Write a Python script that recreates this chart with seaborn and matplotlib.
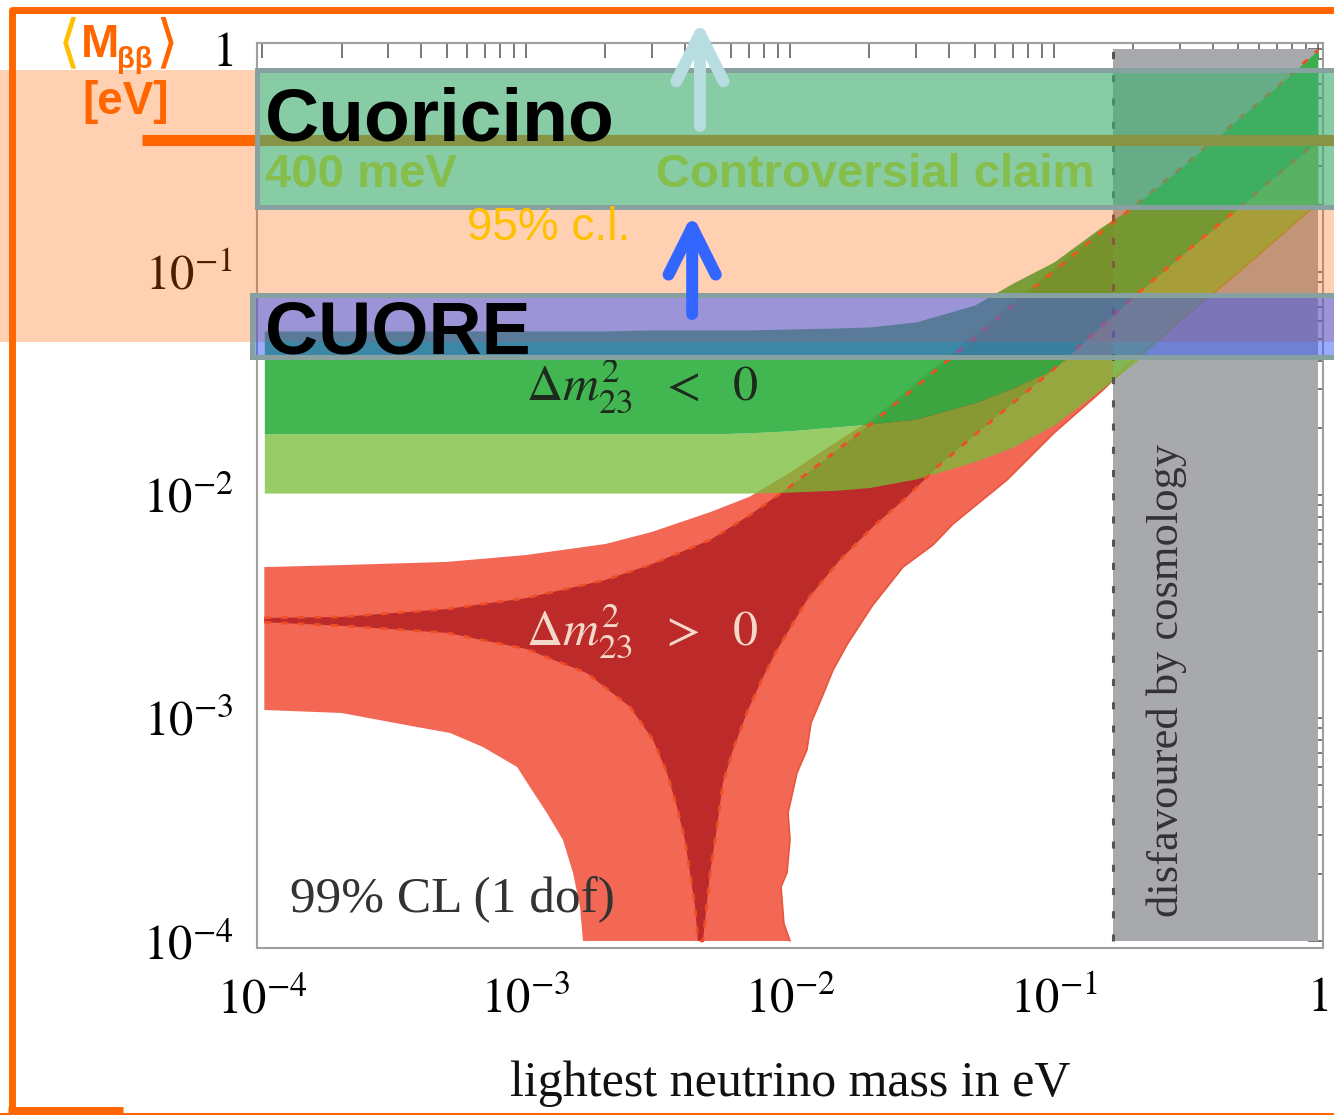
import numpy as np
import matplotlib
matplotlib.use("Agg")
import matplotlib.pyplot as plt
import matplotlib.transforms as mtransforms
from matplotlib.patches import Rectangle, FancyArrowPatch
from matplotlib.lines import Line2D
from matplotlib.ticker import LogLocator, NullFormatter
import seaborn as sns

# ---------------------------------------------------------------------------
# Effective Majorana mass <M_bb> (eV) versus lightest neutrino mass (eV)
# ---------------------------------------------------------------------------
m_grid = [1.02e-4, 2e-4, 5e-4, 1e-3, 2e-3, 3e-3, 5e-3, 7e-3, 1e-2, 1.5e-2, 2e-2,
          3e-2, 5e-2, 7e-2, 0.1, 0.15, 0.2, 0.3, 0.5, 0.7, 1.0]

# inverted hierarchy (dm23^2 < 0)
ih_upper = [0.0544, 0.0544, 0.0544, 0.0544, 0.0544, 0.0550, 0.0550, 0.0550, 0.0555,
            0.0561, 0.0567, 0.0597, 0.0711, 0.0893, 0.111, 0.158, 0.196, 0.29,
            0.485, 0.675, 0.99]
ih_mid = [0.0188, 0.0188, 0.0188, 0.0188, 0.0188, 0.0188, 0.0188, 0.0190, 0.0194,
          0.0202, 0.0208, 0.0219, 0.0259, 0.0302, 0.0367, 0.0567, 0.0772, 0.1168,
          0.1936, 0.2723, 0.3867]
ih_lower = [0.0102, 0.0102, 0.0102, 0.0102, 0.0102, 0.0102, 0.0102, 0.0102, 0.0103,
            0.0105, 0.0108, 0.0118, 0.0141, 0.0164, 0.0206, 0.0296, 0.0387, 0.0603,
            0.100, 0.141, 0.204]

# normal hierarchy (dm23^2 > 0): best-fit band
nh_dark_upper = [0.00281, 0.00284, 0.00308, 0.00345, 0.00416, 0.00490, 0.0063, 0.0081,
                 0.0109, 0.0158, 0.0206, 0.0305, 0.0506, 0.0711, 0.101, 0.150, 0.196,
                 0.29, 0.485, 0.675, 0.99]
nh_dark_left_x = [1.02e-4, 2e-4, 5e-4, 1e-3, 1.70e-3, 2.48e-3, 3.03e-3, 3.42e-3,
                  3.73e-3, 4.0e-3, 4.18e-3, 4.37e-3, 4.48e-3]
nh_dark_left_y = [2.69e-3, 2.59e-3, 2.41e-3, 2.04e-3, 1.59e-3, 1.12e-3, 7.97e-4,
                  5.67e-4, 3.99e-4, 2.84e-4, 2.02e-4, 1.42e-4, 1.0e-4]
nh_dark_right_x = [4.68e-3, 4.98e-3, 5.29e-3, 5.57e-3, 6.08e-3, 6.93e-3, 7.91e-3,
                   8.93e-3, 0.01159, 0.01545, 0.0206, 0.0277, 0.0361, 0.0511, 0.070,
                   0.1, 0.15, 0.2, 0.3, 0.5, 0.7, 1.0]
nh_dark_right_y = [1.0e-4, 2.02e-4, 3.24e-4, 5.11e-4, 7.19e-4, 1.086e-3, 1.527e-3,
                   2.018e-3, 3.38e-3, 5.11e-3, 7.19e-3, 9.79e-3, 0.01335, 0.01897,
                   0.02586, 0.0367, 0.0567, 0.0772, 0.1168, 0.1936, 0.2723, 0.3867]

# normal hierarchy: 99% CL band
nh_light_upper = [0.00475, 0.00485, 0.00501, 0.00538, 0.00603, 0.00683, 0.00839,
                  0.00980, 0.0126, 0.0173, 0.0215, 0.0318, 0.0527, 0.0734, 0.104,
                  0.154, 0.202, 0.302, 0.501, 0.697, 1.0]
nh_light_left_x = [1.02e-4, 2e-4, 3.86e-4, 5.15e-4, 6.87e-4, 9.25e-4, 1.035e-3,
                   1.2e-3, 1.38e-3, 1.507e-3, 1.602e-3, 1.644e-3]
nh_light_left_y = [1.086e-3, 1.053e-3, 9.11e-4, 8.57e-4, 7.41e-4, 6.03e-4, 4.9e-4,
                   3.75e-4, 2.84e-4, 2.02e-4, 1.42e-4, 1.0e-4]
nh_light_right_x = [0.0100, 9.48e-3, 9.25e-3, 9.74e-3, 0.0100, 9.83e-3, 0.01063,
                    0.01159, 0.01201, 0.01322, 0.01456, 0.01644, 0.01891, 0.0206,
                    0.02679, 0.03481, 0.04143, 0.06637, 0.1, 0.1533, 0.2, 0.3, 0.5, 1.0]
nh_light_right_y = [1.0e-4, 1.20e-4, 1.75e-4, 2.02e-4, 2.84e-4, 3.75e-4, 5.67e-4,
                    7.19e-4, 9.5e-4, 1.24e-3, 1.64e-3, 2.13e-3, 2.75e-3, 3.21e-3,
                    4.75e-3, 5.97e-3, 7.41e-3, 0.01168, 0.01897, 0.02957, 0.0403,
                    0.0603, 0.100, 0.204]

cosmology_limit = 0.167          # eV
ci_region = (0.0485, 0.805)      # 95% c.l. shading (eV)
cuoricino_range = (0.196, 0.805)
claim_value = 0.39
cuore_range = (0.0416, 0.0788)

x_ticks = [1e-4, 1e-3, 1e-2, 1e-1, 1.0]
x_tick_labels = [r"$10^{-4}$", r"$10^{-3}$", r"$10^{-2}$", r"$10^{-1}$", r"$1$"]
y_ticks = [1e-4, 1e-3, 1e-2, 1e-1, 1.0]
y_tick_labels = [r"$10^{-4}$", r"$10^{-3}$", r"$10^{-2}$", r"$10^{-1}$", r"$1$"]

# ---------------------------------------------------------------------------
W, H = 1334, 1115
sns.set_theme(style="white")
plt.rcParams["font.family"] = ["Liberation Serif", "DejaVu Serif"]
plt.rcParams["mathtext.fontset"] = "stix"

ORANGE = "#FF6600"
GOLD = "#FFC000"
LIGHT_RED = "#F26855"
DARK_RED = "#BC2A2A"
GRAY = "#A8A9AD"

fig = plt.figure(figsize=(W / 100, H / 100), dpi=100)
fig.patch.set_facecolor("white")
ax = fig.add_axes([257 / W, 1 - 948 / H, (1323 - 257) / W, (948 - 43) / H])
ax.set_xscale("log")
ax.set_yscale("log")
ax.set_facecolor("white")

# normal hierarchy regions
poly_x = m_grid + nh_light_right_x[::-1] + nh_light_left_x[::-1]
poly_y = nh_light_upper + nh_light_right_y[::-1] + nh_light_left_y[::-1]
ax.fill(poly_x, poly_y, color=LIGHT_RED, lw=0, zorder=1)
poly_x = m_grid + nh_dark_right_x[::-1] + nh_dark_left_x[::-1]
poly_y = nh_dark_upper + nh_dark_right_y[::-1] + nh_dark_left_y[::-1]
ax.fill(poly_x, poly_y, color=DARK_RED, lw=0, zorder=1.2)

# region excluded by cosmology
ax.fill_between([cosmology_limit, 1.0], 1e-4, 1.0, color=GRAY, lw=0, zorder=2)
sns.lineplot(x=nh_light_right_x, y=nh_light_right_y, sort=False, estimator=None,
             color="#E8553A", lw=1.2, ax=ax, zorder=2.5)

# inverted hierarchy regions
ax.fill_between(m_grid, ih_lower, ih_mid, color=(120 / 255, 188 / 255, 55 / 255),
                alpha=0.76, lw=0, zorder=3)
ax.fill_between(m_grid, ih_mid, ih_upper, color=(50 / 255, 176 / 255, 66 / 255),
                alpha=0.92, lw=0, zorder=3.1)

# dashed boundaries of the best-fit normal-hierarchy band
sns.lineplot(x=m_grid, y=nh_dark_upper, sort=False, estimator=None,
             color="#F04E26", lw=2.0, ls=(0, (2.5, 3.5)), ax=ax, zorder=4)
sns.lineplot(x=nh_dark_left_x + nh_dark_right_x, y=nh_dark_left_y + nh_dark_right_y,
             sort=False, estimator=None, color="#F04E26", lw=2.0, ls=(0, (2.5, 3.5)),
             ax=ax, zorder=4)
ax.plot([cosmology_limit, cosmology_limit], [1e-4, 1.0], color="#555555", lw=2.2,
        ls=(0, (2.3, 5.3)), zorder=4.2)

# labels inside the plot
ax.text(1.0e-3, 0.0267, r"$\Delta m^2_{23}\ \ <\ \ 0$", fontsize=36,
        color="#1E2A1E", zorder=4.5)
ax.text(1.0e-3, 2.12e-3, r"$\Delta m^2_{23}\ \ >\ \ 0$", fontsize=36,
        color="#F4D8CA", zorder=4.5)
ax.text(1.28e-4, 1.35e-4, "99% CL (1 dof)", fontsize=37, color="#333333", zorder=4.5)
ax.text(0.268, 1.48e-3, "disfavoured by cosmology", rotation=90, ha="center",
        va="center", fontsize=32, color="#333333", zorder=4.5)

# experimental overlays (x spans the figure, y in eV)
blend = mtransforms.blended_transform_factory(fig.transFigure, ax.transData)
ax.add_artist(Rectangle((0, ci_region[0]), 1.0, ci_region[1] - ci_region[0],
                        transform=blend, facecolor=(1.0, 0.4, 0.0, 0.3), lw=0,
                        clip_on=False, zorder=5))
ax.add_artist(Line2D([142 / W, 1.0], [claim_value, claim_value], transform=blend,
                     color=ORANGE, lw=8, solid_capstyle="butt", clip_on=False,
                     zorder=5.5))
ax.add_artist(Rectangle((257 / W, cuoricino_range[0]), 1.0,
                        cuoricino_range[1] - cuoricino_range[0], transform=blend,
                        facecolor=(0.0, 200 / 255, 150 / 255, 0.47),
                        edgecolor="#87A0A0", lw=3.6, clip_on=False, zorder=6))
ax.add_artist(Rectangle((252 / W, cuore_range[0]), 1.0,
                        cuore_range[1] - cuore_range[0], transform=blend,
                        facecolor=(56 / 255, 90 / 255, 250 / 255, 0.5),
                        edgecolor="#87A0A0", lw=3.6, clip_on=False, zorder=6))

sans = ["Liberation Sans", "DejaVu Sans"]
ax.text(1.026e-4, claim_value, "Cuoricino", fontsize=54, fontweight="bold",
        family=sans, va="baseline", color="black", zorder=7)
ax.text(1.026e-4, 0.0433, "CUORE", fontsize=53, fontweight="bold", family=sans,
        va="baseline", color="black", zorder=7)
ax.text(1.026e-4, 0.2405, "400 meV", fontsize=34, fontweight="bold", family=sans,
        va="baseline", color="#86BE4C", zorder=7)
ax.text(3.11e-3, 0.2405, "Controversial claim", fontsize=34, fontweight="bold",
        family=sans, va="baseline", color="#86BE4C", zorder=7)
ax.text(5.98e-4, 0.139, "95% c.l.", fontsize=33, family=sans, va="baseline",
        color=GOLD, zorder=7)

for xa, y_tail, y_tip, col in [(4.56e-3, 0.452, 1.34, "#B8DDE1"),
                               (4.26e-3, 0.0648, 0.182, "#3366FF")]:
    ax.add_artist(FancyArrowPatch((xa, y_tail), (xa, y_tip),
                                  arrowstyle="->,head_length=3.4,head_width=1.7",
                                  mutation_scale=10, lw=8.6, color=col,
                                  capstyle="round", joinstyle="round",
                                  shrinkA=0, shrinkB=0, transform=ax.transData,
                                  clip_on=False, zorder=8))

# axes styling
ax.set_xlim(9.57e-5, 1.045)
ax.set_ylim(9.3e-5, 1.064)
ax.set_xticks(x_ticks, x_tick_labels)
ax.set_yticks(y_ticks, y_tick_labels)
for axis in (ax.xaxis, ax.yaxis):
    axis.set_minor_locator(LogLocator(base=10, subs=np.arange(2, 10), numticks=20))
    axis.set_minor_formatter(NullFormatter())
ax.tick_params(which="both", direction="in", top=True, right=True, length=10.5,
               width=1.1, color="#555555", labelcolor="black", labelsize=35)
ax.tick_params(axis="y", pad=17)
ax.tick_params(axis="x", pad=21)
for sp in ax.spines.values():
    sp.set_color("#A0A0A0")
    sp.set_linewidth(1.5)
ax.set_xlabel("lightest neutrino mass in eV", fontsize=36, color="#111111",
              labelpad=27)
ax.set_ylabel("")

# axis title for <M_bb>
def fpos(px, py):
    return px / W, 1 - py / H

fig.text(*fpos(69, 44), "\u27e8", color=GOLD, fontsize=42, ha="center", va="center",
         family=["DejaVu Sans"])
fig.text(*fpos(81, 57), "M", color=ORANGE, fontsize=33, fontweight="bold",
         family=sans, va="baseline")
fig.text(*fpos(117, 68), "\u03b2\u03b2", color=ORANGE, fontsize=21, fontweight="bold",
         family=sans, va="baseline")
fig.text(*fpos(167, 44), "\u27e9", color=ORANGE, fontsize=42, ha="center",
         va="center", family=["DejaVu Sans"])
fig.text(*fpos(82, 114), "[eV]", color=ORANGE, fontsize=33, fontweight="bold",
         family=sans, va="baseline")

# orange frame
fig.add_artist(Line2D([11.5 / W, 11.5 / W, 1.0], [1 - 1110 / H, 1 - 9.5 / H, 1 - 9.5 / H],
                      transform=fig.transFigure, color=ORANGE, lw=5,
                      solid_joinstyle="round", solid_capstyle="butt"))
fig.add_artist(Line2D([8 / W, 123 / W], [1 - 1110 / H, 1 - 1110 / H],
                      transform=fig.transFigure, color=ORANGE, lw=5,
                      solid_capstyle="butt"))
fig.add_artist(Line2D([0, 1.0], [1 - 1113.5 / H, 1 - 1113.5 / H],
                      transform=fig.transFigure, color=ORANGE, lw=1.5))

fig.savefig("out.png", dpi=100)
